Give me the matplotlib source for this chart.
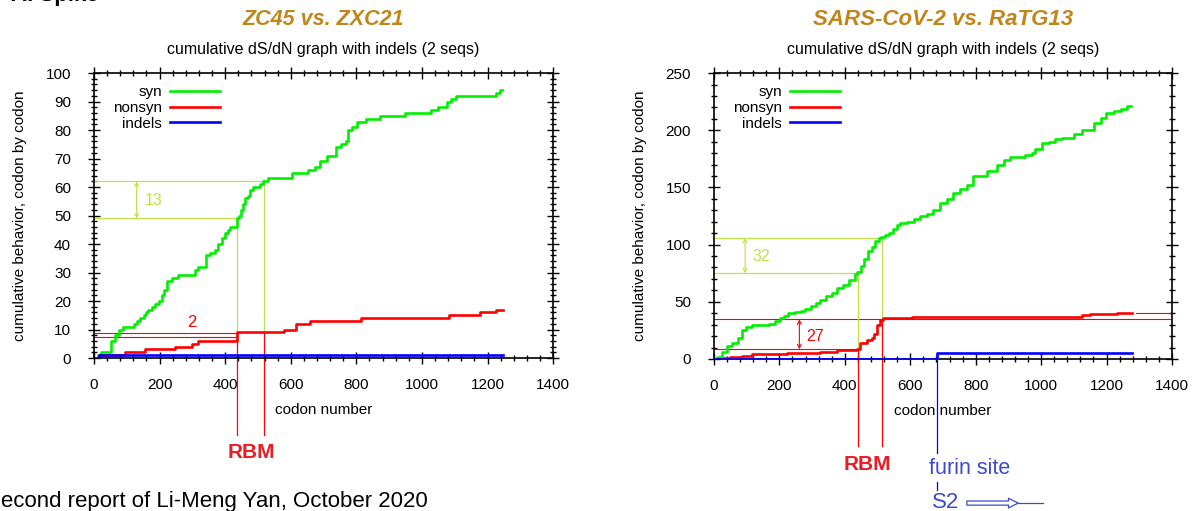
import matplotlib
matplotlib.use("Agg")
import matplotlib.pyplot as plt
from matplotlib.ticker import MultipleLocator

plt.rcParams['font.family'] = ['Liberation Sans', 'DejaVu Sans']

# ZC45 vs ZXC21 (left panel), step curves
left_syn_x = [0, 12, 20, 53, 64, 76, 88, 123, 131, 140, 152, 160, 166, 176, 186, 197, 207, 213, 222, 238,
              256, 308, 318, 343, 353, 369, 379, 389, 400, 410, 415, 435, 442, 449, 455, 460, 470, 476, 486, 506,
              516, 531, 603, 653, 674, 689, 710, 738, 753, 769, 774, 788, 802, 828, 871, 947, 1029, 1049, 1075, 1090,
              1103, 1227, 1237, 1245]
left_syn_y = [0, 1, 2, 6, 8, 10, 11, 12, 13, 14, 15, 16, 17, 18, 19, 20, 22, 24, 27, 28,
              29, 31, 32, 36, 37, 38, 40, 42, 44, 45, 46, 49, 50, 52, 54, 56, 57, 59, 60, 61,
              62, 63, 65, 66, 67, 69, 71, 74, 75, 76, 80, 81, 83, 84, 85, 86, 87, 88, 90, 91,
              92, 93, 94, 94]
left_non_x = [0, 15, 95, 156, 247, 298, 318, 435, 580, 615, 660, 814, 1083, 1177, 1226, 1248]
left_non_y = [0, 1, 2, 3, 4, 5, 6, 9, 10, 12, 13, 14, 15, 16, 17, 17]
left_ind_x = [0, 15, 1248]
left_ind_y = [0, 1, 1]

# SARS-CoV-2 vs RaTG13 (right panel)
right_syn_x = [0, 10, 25, 40, 56, 74, 85, 97, 115, 167, 185, 202, 214, 225, 249, 266, 278, 296, 313, 325,
               342, 360, 377, 395, 412, 430, 438, 448, 459, 471, 483, 492, 504, 512, 524, 535, 547, 559, 570, 589,
               610, 630, 651, 671, 691, 712, 732, 753, 773, 793, 834, 865, 886, 906, 952, 972, 982, 1003, 1024, 1044,
               1065, 1100, 1126, 1162, 1182, 1197, 1223, 1243, 1264, 1276]
right_syn_y = [0, 2, 6, 11, 14, 18, 25, 28, 30, 31, 33, 36, 38, 40, 41, 42, 44, 46, 49, 52,
               55, 58, 62, 65, 69, 74, 76, 81, 87, 94, 98, 103, 106, 107, 108, 110, 114, 117, 119, 120,
               122, 125, 127, 130, 136, 140, 145, 149, 152, 160, 164, 170, 174, 177, 178, 180, 184, 189, 190, 192,
               193, 197, 200, 206, 211, 215, 217, 219, 221, 221]
right_non_x = [0, 30, 49, 85, 115, 222, 324, 375, 436, 446, 467, 483, 489, 497, 508, 518, 604, 1124, 1150, 1232, 1278]
right_non_y = [0, 1, 2, 3, 4, 5, 6, 8, 9, 14, 17, 18, 22, 30, 34, 36, 37, 38.5, 39.5, 40, 40]
right_ind_x = [0, 683, 1278]
right_ind_y = [0, 5, 5]

# annotation values (codon positions / levels)
left_rbm = [435, 518]
left_syn_marks = [49, 62]
left_non_marks = [7.3, 8.7]
right_rbm = [439, 513]
right_syn_marks = [75, 106]
right_non_marks = [8.5, 34.7]
furin_codon = 683

titles = ["ZC45 vs. ZXC21", "SARS-CoV-2 vs. RaTG13"]
title_sizes = [15.5, 16]
subtitle = "cumulative dS/dN graph with indels (2 seqs)"

GREEN = '#00f000'
RED = '#ff0000'
BLUE = '#0000ff'
YG = '#bfe04a'
GOLD = '#c0861c'
TRED = '#ed1c24'
TBLUE = '#3f48cc'

fig = plt.figure(figsize=(12.02, 5.11), dpi=100)
axL = fig.add_axes([0.0782, 0.2994, 0.382, 0.5576])
axR = fig.add_axes([0.594, 0.2975, 0.381, 0.5595])


def base(ax, ymax, ymaj, ymin, title, tsize):
    ax.set_xlim(0, 1400)
    ax.set_ylim(0, ymax)
    ax.xaxis.set_major_locator(MultipleLocator(200))
    ax.xaxis.set_minor_locator(MultipleLocator(40))
    ax.yaxis.set_major_locator(MultipleLocator(ymaj))
    ax.yaxis.set_minor_locator(MultipleLocator(ymin))
    ax.tick_params(which='both', direction='inout', top=True, right=True, width=1.0, labelsize=11)
    ax.tick_params(which='major', length=9)
    ax.tick_params(which='minor', length=5)
    ax.tick_params(axis='x', pad=10)
    ax.tick_params(axis='y', pad=12)
    for s in ax.spines.values():
        s.set_linewidth(1.2)
    ax.set_xlabel("codon number", fontsize=11)
    ax.xaxis.set_label_coords(0.5, -0.159)
    ax.set_ylabel("cumulative behavior, codon by codon", fontsize=11)
    ax.yaxis.set_label_coords(-0.146, 0.5)
    ax.text(0.5, 1.082, subtitle, transform=ax.transAxes, ha='center', va='center', fontsize=11.5)
    ax.text(0.5, 1.187, title, transform=ax.transAxes, ha='center', va='center', fontsize=tsize,
            fontweight='bold', fontstyle='italic', color=GOLD)


def curves(ax, sx, sy, nx, ny, ix, iy):
    ax.plot(sx, sy, drawstyle='steps-post', color=GREEN, lw=1.9, label='syn', zorder=3)
    ax.plot(nx, ny, drawstyle='steps-post', color=RED, lw=1.9, label='nonsyn', zorder=3)
    ax.plot(ix, iy, drawstyle='steps-post', color=BLUE, lw=1.9, label='indels', zorder=4)
    ax.legend(loc='upper right', bbox_to_anchor=(0.275, 0.958), frameon=False, markerfirst=False,
              fontsize=11, handlelength=3.3, handletextpad=0.5, labelspacing=0.12,
              borderpad=0, borderaxespad=0)


def double_arrow(ax, x, y0, y1, color):
    ax.annotate('', xy=(x, y1), xytext=(x, y0),
                arrowprops=dict(arrowstyle='<->', color=color, lw=0.8, shrinkA=0, shrinkB=0,
                                mutation_scale=7))


# ---- left panel
base(axL, 100, 10, 2, titles[0], title_sizes[0])
curves(axL, left_syn_x, left_syn_y, left_non_x, left_non_y, left_ind_x, left_ind_y)
axL.plot([0, left_rbm[0]], [left_syn_marks[0]] * 2, color=YG, lw=0.9)
axL.plot([0, left_rbm[1]], [left_syn_marks[1]] * 2, color=YG, lw=0.9)
axL.plot([0, left_rbm[0]], [left_non_marks[0]] * 2, color=RED, lw=0.8)
axL.plot([0, left_rbm[0]], [left_non_marks[1]] * 2, color=RED, lw=0.8)
axL.plot([left_rbm[0]] * 2, [left_syn_marks[0], 8.7], color=YG, lw=0.9)
axL.plot([left_rbm[1]] * 2, [left_syn_marks[1], 9], color=YG, lw=0.9)
axL.plot([left_rbm[0]] * 2, [8.7, -27], color=RED, lw=0.9, clip_on=False)
axL.plot([left_rbm[1]] * 2, [9, -27], color=RED, lw=0.9, clip_on=False)
double_arrow(axL, 130, left_syn_marks[0], left_syn_marks[1], YG)
axL.text(155, 55.2, "13", color=YG, fontsize=11.5, va='center', ha='left')
axL.text(297, 12.5, "2", color=RED, fontsize=12, va='center', ha='center')
axL.text(479, -33, "RBM", color=TRED, fontsize=15, fontweight='bold', ha='center', va='center')

# ---- right panel
base(axR, 250, 50, 10, titles[1], title_sizes[1])
curves(axR, right_syn_x, right_syn_y, right_non_x, right_non_y, right_ind_x, right_ind_y)
axR.plot([0, right_rbm[0]], [right_syn_marks[0]] * 2, color=YG, lw=0.9)
axR.plot([0, right_rbm[1]], [right_syn_marks[1]] * 2, color=YG, lw=0.9)
axR.plot([0, right_rbm[0]], [right_non_marks[0]] * 2, color=RED, lw=0.8)
axR.plot([0, 1400], [right_non_marks[1]] * 2, color=RED, lw=0.8)
axR.plot([1290, 1400], [40, 40], color=RED, lw=0.8)
axR.plot([right_rbm[0]] * 2, [right_syn_marks[0], right_non_marks[0]], color=YG, lw=0.9)
axR.plot([right_rbm[1]] * 2, [right_syn_marks[1], right_non_marks[1]], color=YG, lw=0.9)
axR.plot([right_rbm[0]] * 2, [right_non_marks[0], -76], color=RED, lw=0.9, clip_on=False)
axR.plot([right_rbm[1]] * 2, [right_non_marks[1], -76], color=RED, lw=0.9, clip_on=False)
axR.plot([furin_codon] * 2, [5, -82], color=BLUE, lw=0.9, clip_on=False, zorder=4)
axR.plot([furin_codon] * 2, [-107.6, -114.6], color=BLUE, lw=0.9, clip_on=False)
double_arrow(axR, 95, right_syn_marks[0], right_syn_marks[1], YG)
double_arrow(axR, 261, right_non_marks[0], right_non_marks[1], RED)
axR.text(117, 89.5, "32", color=YG, fontsize=11.5, va='center', ha='left')
axR.text(282, 20, "27", color=RED, fontsize=11.5, va='center', ha='left')
axR.text(468, -92, "RBM", color=TRED, fontsize=15, fontweight='bold', ha='center', va='center')
axR.text(657, -96, "furin site", color=TBLUE, fontsize=15.5, ha='left', va='center')
axR.text(667, -125.5, "S2", color=TBLUE, fontsize=16, ha='left', va='center')
axR.annotate('', xy=(930, -126), xytext=(773, -126), annotation_clip=False,
             arrowprops=dict(arrowstyle='simple,head_length=0.7,head_width=0.7,tail_width=0.3',
                             fc='white', ec=TBLUE, lw=0.9, shrinkA=0, shrinkB=0, mutation_scale=10))
axR.plot([930, 1006], [-126, -126], color=TBLUE, lw=0.9, clip_on=False)

# cropped captions at the edges
fig.text(-0.012, 4 / 511, "Second report of Li-Meng Yan, October 2020", fontsize=16, ha='left', va='baseline')
fig.text(0.009, 1 - 1 / 511, "A. Spike", fontsize=16, fontweight='bold', ha='left', va='baseline')

fig.savefig("out.png", dpi=100, facecolor='white')
